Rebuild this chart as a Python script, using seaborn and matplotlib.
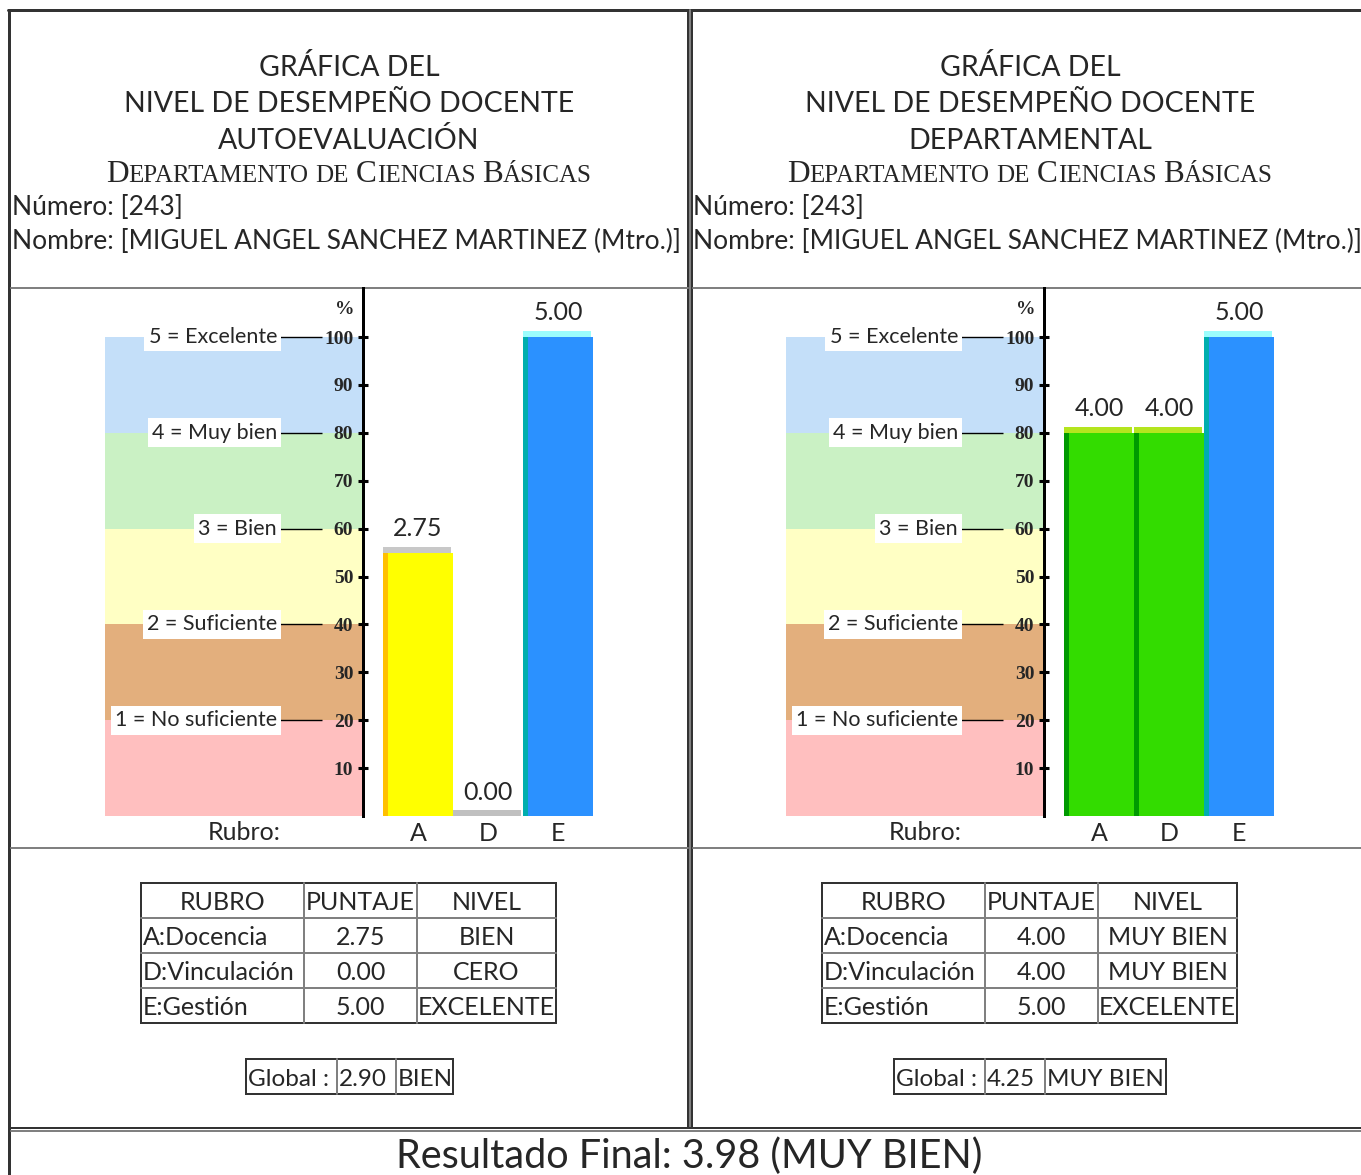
import matplotlib
matplotlib.use("Agg")
import matplotlib.pyplot as plt
from matplotlib.patches import Rectangle
import pandas as pd
import seaborn as sns

sns.set_style("white")
plt.rcParams['font.family'] = ['Lato', 'DejaVu Sans']

W, H = 1361, 1175

# ----------------------------------------------------------------
# Data
# ----------------------------------------------------------------
numero = "243"
nombre = "MIGUEL ANGEL SANCHEZ MARTINEZ (Mtro.)"
departamento = "Departamento de Ciencias Básicas"
rubros = ["A", "D", "E"]
rubro_nombres = ["A:Docencia", "D:Vinculación", "E:Gestión"]

auto_puntaje = [2.75, 0.00, 5.00]
auto_nivel = ["BIEN", "CERO", "EXCELENTE"]
auto_global = 2.90
auto_global_nivel = "BIEN"

depto_puntaje = [4.00, 4.00, 5.00]
depto_nivel = ["MUY BIEN", "MUY BIEN", "EXCELENTE"]
depto_global = 4.25
depto_global_nivel = "MUY BIEN"

final_puntaje = 3.98
final_nivel = "MUY BIEN"

pct_ticks = [10, 20, 30, 40, 50, 60, 70, 80, 90, 100]
niveles = ["1 = No suficiente", "2 = Suficiente", "3 = Bien", "4 = Muy bien", "5 = Excelente"]
band_colors = ["#FFBFBF", "#E3AF7D", "#FFFFC4", "#CAF1C4", "#C4DFF9"]

# fill, left edge, top edge for each level
level_colors = {
    "BIEN": ("#FFFF00", "#FFC000", "#C8C8C8"),
    "CERO": ("#C0C0C0", "#808080", "#C0C0C0"),
    "MUY BIEN": ("#33DC00", "#009A00", "#B4E51E"),
    "EXCELENTE": ("#2B91FF", "#00AEAE", "#9BFDFD"),
}

DARK = "#333333"
GRAY = "#808080"
PT = 0.72  # points per pixel at dpi 100
FS_TAB = 18
FS_GLOB = 17.5

fig = plt.figure(figsize=(W / 100, H / 100), dpi=100)
bg = fig.add_axes([0, 0, 1, 1], zorder=0)
bg.set_xlim(0, W)
bg.set_ylim(H, 0)
bg.axis("off")


def px_axes(x0, y0, x1, y1):
    return fig.add_axes([x0 / W, 1 - y1 / H, (x1 - x0) / W, (y1 - y0) / H], zorder=2)


def small_caps(cx, y, text, big=22.5, small=18):
    # fake small caps: capital letters big, everything else smaller
    renderer = fig.canvas.get_renderer()
    gap = 0.28 * small * 100 / 72
    pieces = []
    x = 0
    for word in text.split():
        if word[0].isupper():
            parts = ((word[0], big), (word[1:].upper(), small))
        else:
            parts = ((word.upper(), small),)
        for s, size in parts:
            t = bg.text(x, y, s, fontsize=size, family="Liberation Serif", va="baseline")
            x += t.get_window_extent(renderer).width
            pieces.append(t)
        x += gap
    total = x - gap
    for t in pieces:
        t.set_x(t.get_position()[0] + cx - total / 2)


# chart geometry (pixels)
Y_ZERO, Y_FULL, Y_TOP = 816, 337, 288
ymax = 5 * (Y_ZERO - Y_TOP) / (Y_ZERO - Y_FULL)


def draw_panel(ox, subtitle, puntaje, nivel, glob, glob_nivel, glob_cols):
    cx = 349 + ox
    bg.text(cx, 76, "GRÁFICA DEL", ha="center", fontsize=20.5)
    bg.text(cx, 112, "NIVEL DE DESEMPEÑO DOCENTE", ha="center", fontsize=20.5)
    bg.text(cx, 149, subtitle, ha="center", fontsize=20.5)
    small_caps(cx, 182, departamento)
    bg.text(12 + ox, 215, f"Número: [{numero}]", fontsize=19)
    bg.text(12 + ox, 249, f"Nombre: [{nombre}]", fontsize=19)

    # ---- background bands with the scale ----
    ax = px_axes(105 + ox, Y_TOP, 363 + ox, Y_ZERO)
    ax.set_facecolor("none")
    for i, col in enumerate(band_colors):
        ax.axhspan(i, i + 1, color=col, lw=0, zorder=0)
    for i, lab in enumerate(niveles):
        ax.hlines(i + 1, 0.667, 0.84, colors="black", lw=1.0, zorder=1)
        ax.text(0.667, i + 1, lab, ha="right", va="center", fontsize=15.5, zorder=2,
                bbox=dict(boxstyle="square,pad=0.2", fc="white", ec="none"))
    ax.set_xlim(0, 1)
    ax.set_ylim(0, ymax)
    ax.set_xticks([])
    ax.set_yticks([p / 20 for p in pct_ticks], labels=[str(p) for p in pct_ticks])
    ax.tick_params(axis="y", left=False, right=True, labelleft=False, labelright=True,
                   direction="inout", length=7, width=2.2, color="black", pad=-10.5)
    for lab in ax.get_yticklabels():
        lab.set_horizontalalignment("right")
        lab.set_fontfamily(["Liberation Serif"])
        lab.set_fontweight("bold")
        lab.set_fontsize(14)
    for side in ("left", "top", "bottom"):
        ax.spines[side].set_visible(False)
    ax.spines["right"].set_color("black")
    ax.spines["right"].set_linewidth(3 * PT)
    bg.text(345 + ox, 314, "%", ha="center", fontsize=14, family="Liberation Serif",
            weight="bold")

    # ---- bars ----
    bx = px_axes(383 + ox, Y_TOP, 593 + ox, Y_ZERO)
    bx.set_facecolor("none")
    df = pd.DataFrame({"rubro": rubros, "puntaje": puntaje, "nivel": nivel})
    fills = [level_colors[n][0] for n in nivel]
    sns.barplot(data=df, x="rubro", y="puntaje", hue="rubro", palette=fills, width=1.0,
                saturation=1, legend=False, linewidth=0, ax=bx)
    bars = list(bx.patches)
    for patch, n in zip(bars, nivel):
        _, side_c, top_c = level_colors[n]
        x, w, h = patch.get_x(), patch.get_width(), patch.get_height()
        bx.add_patch(Rectangle((x, 0), w * 0.075, h, fc=side_c, lw=0, zorder=3))
        bx.add_patch(Rectangle((x, h), w * 0.97, 0.06, fc=top_c, lw=0, zorder=3))
    for c in bx.containers:
        bx.bar_label(c, fmt="%.2f", padding=9, fontsize=18)
    bx.set_xlim(-0.5, 2.5)
    bx.set_ylim(0, ymax)
    bx.set_yticks([])
    bx.set_xlabel("")
    bx.set_ylabel("")
    bx.tick_params(axis="x", length=0, pad=4, labelsize=18)
    sns.despine(ax=bx, left=True, bottom=True)
    bg.text(244 + ox, 840, "Rubro:", ha="center", fontsize=18)

    # ---- score table ----
    cols = [c + ox for c in (141, 304, 417, 556)]
    rows = [883, 918, 953, 988, 1023]
    for yy in rows[1:-1]:
        bg.plot([cols[0], cols[-1]], [yy, yy], color=GRAY, lw=2 * PT)
    for xx in cols[1:-1]:
        bg.plot([xx, xx], [rows[0], rows[-1]], color=GRAY, lw=2 * PT)
    bg.add_patch(Rectangle((cols[0], rows[0]), cols[-1] - cols[0], rows[-1] - rows[0],
                           fill=False, ec=DARK, lw=2 * PT))
    header = ["RUBRO", "PUNTAJE", "NIVEL"]
    for j, htxt in enumerate(header):
        bg.text((cols[j] + cols[j + 1]) / 2, rows[0] + 27, htxt, ha="center", fontsize=FS_TAB)
    for i in range(3):
        base = rows[i + 1] + 27
        bg.text(cols[0] + 2, base, rubro_nombres[i], fontsize=FS_TAB)
        bg.text((cols[1] + cols[2]) / 2, base, f"{puntaje[i]:.2f}", ha="center", fontsize=FS_TAB)
        bg.text((cols[2] + cols[3]) / 2, base, nivel[i], ha="center", fontsize=FS_TAB)

    # ---- global box ----
    gcols = [c + ox for c in glob_cols]
    gy0, gy1 = 1059, 1094
    for xx in gcols[1:-1]:
        bg.plot([xx, xx], [gy0, gy1], color=GRAY, lw=2 * PT)
    bg.add_patch(Rectangle((gcols[0], gy0), gcols[-1] - gcols[0], gy1 - gy0,
                           fill=False, ec=DARK, lw=2 * PT))
    for j, s in enumerate(["Global :", f"{glob:.2f}", glob_nivel]):
        bg.text(gcols[j] + 2, gy0 + 27, s, fontsize=FS_GLOB)


draw_panel(0, "AUTOEVALUACIÓN", auto_puntaje, auto_nivel, auto_global,
           auto_global_nivel, (246, 337, 396, 453))
draw_panel(681, "DEPARTAMENTAL", depto_puntaje, depto_nivel, depto_global,
           depto_global_nivel, (213, 304, 364, 485))

# ---- cell borders ----
bg.plot([8, W], [10, 10], color=DARK, lw=3 * PT)
bg.plot([9.5, 9.5], [10, H], color=DARK, lw=3 * PT)
bg.plot([688.5, 688.5], [10, 1128], color=DARK, lw=2 * PT)
bg.plot([690.5, 690.5], [10, 1128], color=GRAY, lw=2 * PT)
bg.plot([692.5, 692.5], [10, 1128], color=DARK, lw=2 * PT)
for yy in (288, 848):
    bg.plot([11, 688], [yy, yy], color=GRAY, lw=2 * PT)
    bg.plot([693, W], [yy, yy], color=GRAY, lw=2 * PT)
bg.plot([11, W], [1128, 1128], color=DARK, lw=2 * PT)
bg.plot([11, W], [1131, 1131], color=GRAY, lw=2 * PT)

bg.text(689, 1168, f"Resultado Final: {final_puntaje:.2f} ({final_nivel})",
        ha="center", fontsize=28.5)

fig.savefig("out.png", dpi=100)
